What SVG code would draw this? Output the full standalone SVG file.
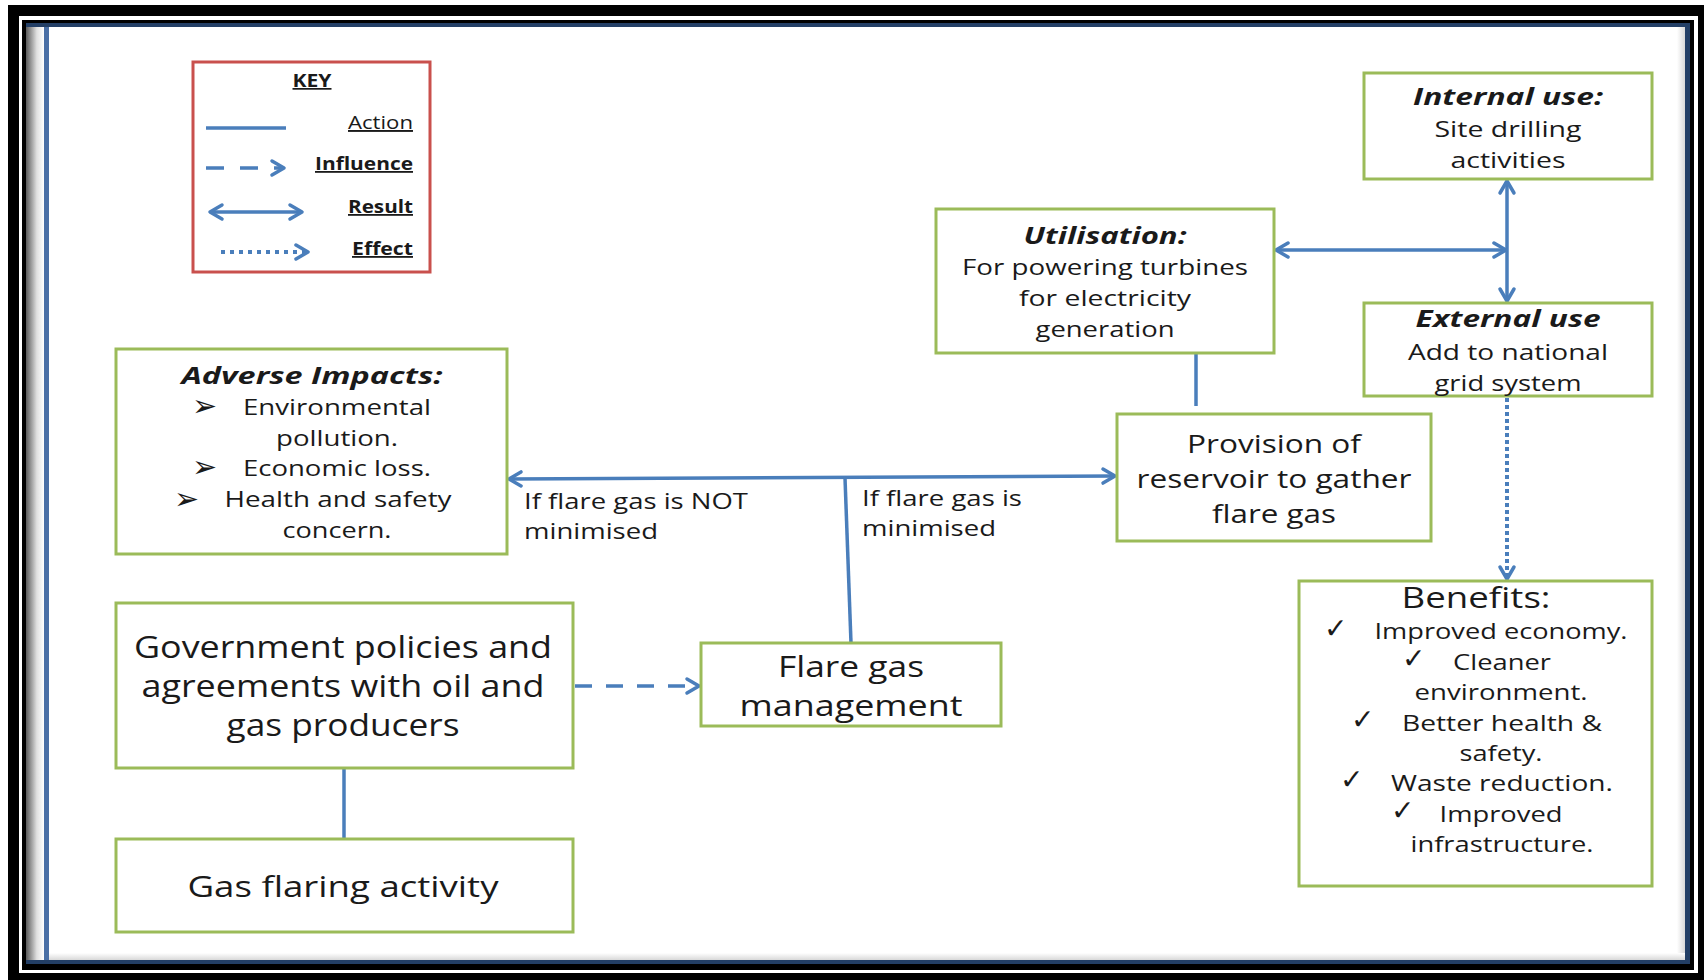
<svg xmlns="http://www.w3.org/2000/svg" width="1704" height="980" viewBox="0 0 1704 980">
  <style>
    .box { fill: #ffffff; stroke: #9bbb59; stroke-width: 3; }
    .key { fill: #ffffff; stroke: #c9504d; stroke-width: 3; }
    .t { font-family: "Open Sans", "Noto Sans", "Liberation Sans", sans-serif; fill: #1a1a1a; }
    .c { text-anchor: middle; }
    .bi { font-weight: bold; font-style: italic; }
    .b { font-weight: bold; }
    .u { text-decoration: underline; }
    .sym { font-family: "DejaVu Sans", sans-serif; fill: #1a1a1a; }
    .ln { fill: none; stroke: #4a7ebb; stroke-width: 3.5; }
    .dash { stroke-dasharray: 17 14; }
    .dot { stroke-width: 4; stroke-dasharray: 4 3; }
  </style>
  <defs>
    <marker id="chev" markerUnits="userSpaceOnUse" viewBox="-2 -2 16 18" refX="12" refY="7" markerWidth="16" markerHeight="18" orient="auto-start-reverse" overflow="visible">
      <path d="M0,0 L12,7 L0,14" fill="none" stroke="#4a7ebb" stroke-width="3.5" stroke-linecap="round" stroke-linejoin="round"/>
    </marker>
    <linearGradient id="shadeL" x1="0" y1="0" x2="1" y2="0">
      <stop offset="0" stop-color="#5a5a5a"/>
      <stop offset="0.6" stop-color="#e0e0e0"/>
      <stop offset="1" stop-color="#ffffff"/>
    </linearGradient>
    <linearGradient id="shadeR" x1="0" y1="0" x2="1" y2="0">
      <stop offset="0" stop-color="#ffffff"/>
      <stop offset="1" stop-color="#d8d8d8"/>
    </linearGradient>
    <linearGradient id="shadeB" x1="0" y1="0" x2="0" y2="1">
      <stop offset="0" stop-color="#ffffff"/>
      <stop offset="1" stop-color="#d8d8d8"/>
    </linearGradient>
  </defs>

  <!-- page frame -->
  <g id="frame">
    <rect x="0" y="0" width="1704" height="980" fill="#ffffff"/>
    <rect x="8" y="5" width="1696" height="975" fill="#000000"/>
    <rect x="19" y="16" width="1679" height="957" fill="#ffffff"/>
    <rect x="22" y="20" width="1672" height="950" fill="#000000"/>
    <rect x="26" y="23" width="1664" height="941" fill="#233f66"/>
    <rect x="26" y="27" width="18" height="933" fill="url(#shadeL)"/>
    <rect x="44" y="27" width="5" height="933" fill="#4a6fa5"/>
    <rect x="49" y="27" width="1636" height="933" fill="#ffffff"/>
    <rect x="1677" y="27" width="8" height="933" fill="url(#shadeR)"/>
    <rect x="49" y="953" width="1636" height="7" fill="url(#shadeB)"/>
  </g>

  <!-- legend -->
  <g id="legend">
    <rect class="key" x="193" y="62" width="237" height="210"/>
    <text class="t c b u" x="312" y="87" font-size="17" textLength="39" lengthAdjust="spacingAndGlyphs">KEY</text>
    <line class="ln" x1="206" y1="128" x2="286" y2="128"/>
    <text class="t u" x="413" y="129" font-size="19" text-anchor="end" textLength="65" lengthAdjust="spacingAndGlyphs">Action</text>
    <line class="ln dash" x1="206" y1="168" x2="284" y2="168" style="stroke-dasharray:18 16" marker-end="url(#chev)"/>
    <text class="t b u" x="413" y="170" font-size="18" text-anchor="end" textLength="98" lengthAdjust="spacingAndGlyphs">Influence</text>
    <line class="ln" x1="210" y1="212" x2="302" y2="212" marker-start="url(#chev)" marker-end="url(#chev)"/>
    <text class="t b u" x="413" y="213" font-size="18" text-anchor="end" textLength="65" lengthAdjust="spacingAndGlyphs">Result</text>
    <line class="ln" x1="221" y1="252" x2="308" y2="252" style="stroke-width:4;stroke-dasharray:4 5" marker-end="url(#chev)"/>
    <text class="t b u" x="413" y="255" font-size="18" text-anchor="end" textLength="61" lengthAdjust="spacingAndGlyphs">Effect</text>
  </g>

  <!-- connectors -->
  <g id="connectors">
    <line class="ln" x1="344" y1="768" x2="344" y2="839"/>
    <line class="ln dash" x1="575" y1="686" x2="699" y2="686" marker-end="url(#chev)"/>
    <line class="ln" x1="851" y1="643" x2="845" y2="478"/>
    <line class="ln" x1="509" y1="479" x2="1115" y2="476" marker-start="url(#chev)" marker-end="url(#chev)"/>
    <line class="ln" x1="1196" y1="353" x2="1196" y2="406"/>
    <line class="ln" x1="1276" y1="250" x2="1506" y2="250" marker-start="url(#chev)" marker-end="url(#chev)"/>
    <line class="ln" x1="1507" y1="181" x2="1507" y2="301" marker-start="url(#chev)" marker-end="url(#chev)"/>
    <line class="ln dot" x1="1507" y1="398" x2="1507" y2="579" marker-end="url(#chev)"/>
  </g>

  <g id="internal-use">
    <rect class="box" x="1364" y="73" width="288" height="106"/>
    <text class="t c bi" x="1508" y="105" font-size="24" textLength="190" lengthAdjust="spacingAndGlyphs">Internal use:</text>
    <text class="t c" x="1508" y="137" font-size="22" textLength="147" lengthAdjust="spacingAndGlyphs">Site drilling</text>
    <text class="t c" x="1508" y="168" font-size="22" textLength="115" lengthAdjust="spacingAndGlyphs">activities</text>
  </g>

  <g id="utilisation">
    <rect class="box" x="936" y="209" width="338" height="144"/>
    <text class="t c bi" x="1105" y="244" font-size="24" textLength="163" lengthAdjust="spacingAndGlyphs">Utilisation:</text>
    <text class="t c" x="1105" y="275" font-size="22" textLength="286" lengthAdjust="spacingAndGlyphs">For powering turbines</text>
    <text class="t c" x="1105" y="306" font-size="22" textLength="172" lengthAdjust="spacingAndGlyphs">for electricity</text>
    <text class="t c" x="1105" y="337" font-size="22" textLength="139" lengthAdjust="spacingAndGlyphs">generation</text>
  </g>

  <g id="external-use">
    <rect class="box" x="1364" y="303" width="288" height="93"/>
    <text class="t c bi" x="1508" y="327" font-size="24" textLength="185" lengthAdjust="spacingAndGlyphs">External use</text>
    <text class="t c" x="1508" y="360" font-size="22" textLength="200" lengthAdjust="spacingAndGlyphs">Add to national</text>
    <text class="t c" x="1508" y="391" font-size="22" textLength="147" lengthAdjust="spacingAndGlyphs">grid system</text>
  </g>

  <g id="adverse-impacts">
    <rect class="box" x="116" y="349" width="391" height="205"/>
    <text class="t c bi" x="312" y="384" font-size="24" textLength="261" lengthAdjust="spacingAndGlyphs">Adverse Impacts:</text>
    <text class="sym" x="192" y="416" font-size="30">➢</text>
    <text class="t c" x="337" y="415" font-size="22" textLength="188" lengthAdjust="spacingAndGlyphs">Environmental</text>
    <text class="t c" x="337" y="446" font-size="22" textLength="122" lengthAdjust="spacingAndGlyphs">pollution.</text>
    <text class="sym" x="192" y="477" font-size="30">➢</text>
    <text class="t c" x="337" y="476" font-size="22" textLength="188" lengthAdjust="spacingAndGlyphs">Economic loss.</text>
    <text class="sym" x="174" y="509" font-size="30">➢</text>
    <text class="t c" x="338" y="507" font-size="22" textLength="227" lengthAdjust="spacingAndGlyphs">Health and safety</text>
    <text class="t c" x="337" y="538" font-size="22" textLength="109" lengthAdjust="spacingAndGlyphs">concern.</text>
  </g>

  <g id="condition-labels">
    <text class="t" x="524" y="509" font-size="22" textLength="224" lengthAdjust="spacingAndGlyphs">If flare gas is NOT</text>
    <text class="t" x="524" y="539" font-size="22" textLength="134" lengthAdjust="spacingAndGlyphs">minimised</text>
    <text class="t" x="862" y="506" font-size="22" textLength="160" lengthAdjust="spacingAndGlyphs">If flare gas is</text>
    <text class="t" x="862" y="536" font-size="22" textLength="134" lengthAdjust="spacingAndGlyphs">minimised</text>
  </g>

  <g id="provision">
    <rect class="box" x="1117" y="414" width="314" height="127"/>
    <text class="t c" x="1274" y="453" font-size="26" textLength="174" lengthAdjust="spacingAndGlyphs">Provision of</text>
    <text class="t c" x="1274" y="488" font-size="26" textLength="275" lengthAdjust="spacingAndGlyphs">reservoir to gather</text>
    <text class="t c" x="1274" y="523" font-size="26" textLength="124" lengthAdjust="spacingAndGlyphs">flare gas</text>
  </g>

  <g id="benefits">
    <rect class="box" x="1299" y="581" width="353" height="305"/>
    <text class="t c" x="1476" y="608" font-size="30" textLength="149" lengthAdjust="spacingAndGlyphs">Benefits:</text>
    <text class="sym" x="1324" y="638" font-size="28">✓</text>
    <text class="t c" x="1501" y="639" font-size="22" textLength="253" lengthAdjust="spacingAndGlyphs">Improved economy.</text>
    <text class="sym" x="1402" y="668" font-size="28">✓</text>
    <text class="t c" x="1502" y="670" font-size="22" textLength="98" lengthAdjust="spacingAndGlyphs">Cleaner</text>
    <text class="t c" x="1501" y="700" font-size="22" textLength="173" lengthAdjust="spacingAndGlyphs">environment.</text>
    <text class="sym" x="1351" y="729" font-size="28">✓</text>
    <text class="t c" x="1502" y="731" font-size="22" textLength="200" lengthAdjust="spacingAndGlyphs">Better health &amp;</text>
    <text class="t c" x="1501" y="761" font-size="22" textLength="83" lengthAdjust="spacingAndGlyphs">safety.</text>
    <text class="sym" x="1340" y="789" font-size="28">✓</text>
    <text class="t c" x="1502" y="791" font-size="22" textLength="222" lengthAdjust="spacingAndGlyphs">Waste reduction.</text>
    <text class="sym" x="1391" y="820" font-size="28">✓</text>
    <text class="t c" x="1501" y="822" font-size="22" textLength="123" lengthAdjust="spacingAndGlyphs">Improved</text>
    <text class="t c" x="1502" y="852" font-size="22" textLength="183" lengthAdjust="spacingAndGlyphs">infrastructure.</text>
  </g>

  <g id="government-policies">
    <rect class="box" x="116" y="603" width="457" height="165"/>
    <text class="t c" x="343" y="658" font-size="31" textLength="418" lengthAdjust="spacingAndGlyphs">Government policies and</text>
    <text class="t c" x="343" y="697" font-size="31" textLength="403" lengthAdjust="spacingAndGlyphs">agreements with oil and</text>
    <text class="t c" x="343" y="736" font-size="31" textLength="233" lengthAdjust="spacingAndGlyphs">gas producers</text>
  </g>

  <g id="flare-gas-management">
    <rect class="box" x="701" y="643" width="300" height="83"/>
    <text class="t c" x="851" y="677" font-size="30" textLength="146" lengthAdjust="spacingAndGlyphs">Flare gas</text>
    <text class="t c" x="851" y="716" font-size="30" textLength="223" lengthAdjust="spacingAndGlyphs">management</text>
  </g>

  <g id="gas-flaring-activity">
    <rect class="box" x="116" y="839" width="457" height="93"/>
    <text class="t c" x="343" y="897" font-size="30" textLength="311" lengthAdjust="spacingAndGlyphs">Gas flaring activity</text>
  </g>
</svg>
